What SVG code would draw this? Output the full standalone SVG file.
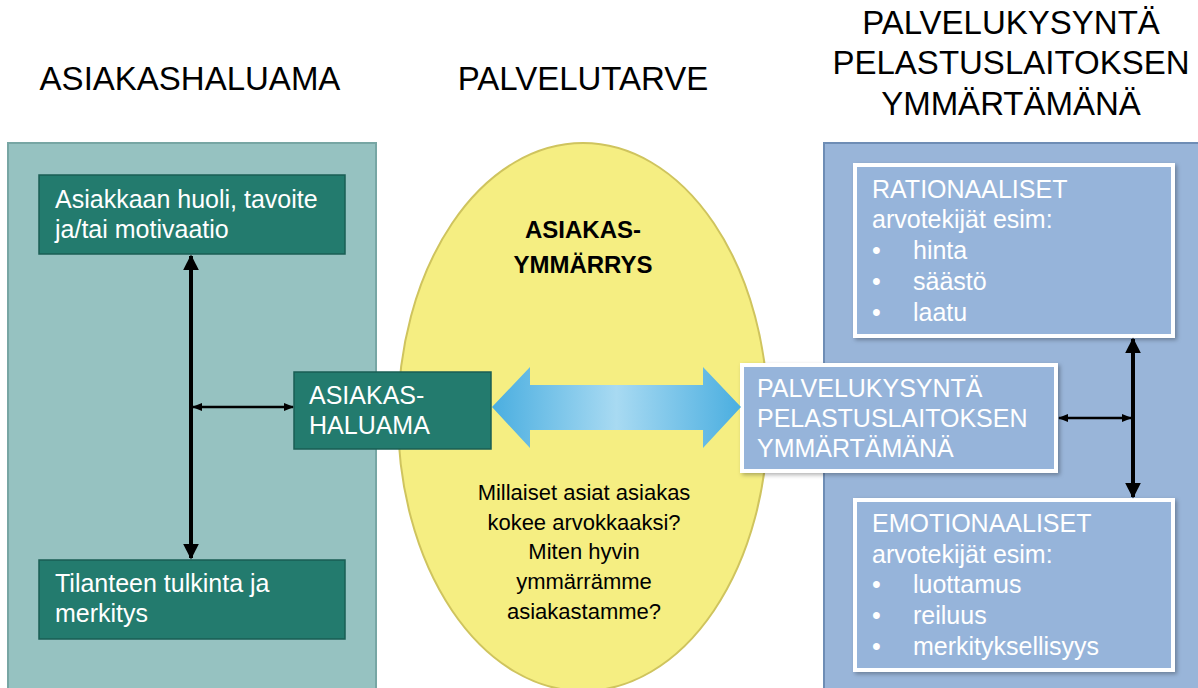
<svg xmlns="http://www.w3.org/2000/svg" width="1198" height="688" viewBox="0 0 1198 688">
<defs>
<style>
.t{font-family:"Liberation Sans",Arial,sans-serif}
.title{font-size:33px;fill:#000}
.wt{font-size:25px;fill:#fff}
.rt{font-size:25px;fill:#fff}
.q{font-size:22px;fill:#000;text-anchor:middle}
.dk{fill:#237b6e;stroke:#1a5e54;stroke-width:1.5}
.bx{fill:#96b4da;stroke:#fff;stroke-width:4}
.ln{stroke:#000;fill:none}
</style>
<marker id="ah" viewBox="0 0 10 10" refX="9" refY="5" markerWidth="4" markerHeight="4" orient="auto-start-reverse" markerUnits="strokeWidth"><path d="M0,0 L10,5 L0,10 z" fill="#000"/></marker>
<marker id="ah2" viewBox="0 0 10 10" refX="9" refY="5" markerWidth="4" markerHeight="4" orient="auto-start-reverse" markerUnits="strokeWidth"><path d="M0,1 L10,5 L0,9 z" fill="#000"/></marker>
<linearGradient id="bg" x1="0" y1="0" x2="1" y2="0">
<stop offset="0" stop-color="#4aaee0"/><stop offset="0.5" stop-color="#a8daf2"/><stop offset="1" stop-color="#4aaee0"/>
</linearGradient>
<filter id="sh" x="-5%" y="-5%" width="112%" height="115%"><feDropShadow dx="2" dy="2" stdDeviation="2" flood-color="#000" flood-opacity="0.3"/></filter>
</defs>
<rect width="1198" height="688" fill="#fff"/>

<g id="titles" class="t title">
<text x="190" y="90" text-anchor="middle">ASIAKASHALUAMA</text>
<text x="583" y="90" text-anchor="middle">PALVELUTARVE</text>
<text x="1011" y="34" text-anchor="middle">PALVELUKYSYNTÄ</text>
<text x="1011" y="74" text-anchor="middle">PELASTUSLAITOKSEN</text>
<text x="1011" y="115" text-anchor="middle">YMMÄRTÄMÄNÄ</text>
</g>

<g id="left-panel"><rect x="8" y="143" width="368" height="560" fill="#96c2c1" stroke="#77a6a4" stroke-width="2"/></g>
<g id="right-panel"><rect x="824" y="143" width="390" height="560" fill="#99b5d9" stroke="#6e8db5" stroke-width="2"/></g>

<g id="ellipse"><ellipse cx="583" cy="417" rx="185" ry="274" fill="#f5ee82" stroke="#cfc45e" stroke-width="2"/>
<text class="t" x="583" y="238" text-anchor="middle" font-size="24" font-weight="bold">ASIAKAS-</text>
<text class="t" x="583" y="273" text-anchor="middle" font-size="24" font-weight="bold">YMMÄRRYS</text>
<text class="t q" x="584" y="500">Millaiset asiat asiakas</text>
<text class="t q" x="584" y="530">kokee arvokkaaksi?</text>
<text class="t q" x="584" y="559">Miten hyvin</text>
<text class="t q" x="584" y="589">ymmärrämme</text>
<text class="t q" x="584" y="619">asiakastamme?</text>
</g>

<g id="node-huoli"><rect class="dk" x="39" y="175" width="306" height="79"/>
<text class="t wt" x="55" y="208">Asiakkaan huoli, tavoite</text>
<text class="t wt" x="55" y="238">ja/tai motivaatio</text></g>

<g id="node-tilanne"><rect class="dk" x="39" y="560" width="306" height="79"/>
<text class="t wt" x="55" y="592">Tilanteen tulkinta ja</text>
<text class="t wt" x="55" y="622">merkitys</text></g>

<g id="node-haluama"><rect class="dk" x="294" y="372" width="197" height="77"/>
<text class="t wt" x="309" y="404">ASIAKAS-</text>
<text class="t wt" x="309" y="434">HALUAMA</text></g>

<g id="node-rationaaliset"><rect class="bx" x="855" y="165" width="318" height="171" filter="url(#sh)"/>
<text class="t rt" x="872" y="198">RATIONAALISET</text>
<text class="t rt" x="872" y="228">arvotekijät esim:</text>
<text class="t rt" x="872" y="259">•</text><text class="t rt" x="913" y="259">hinta</text>
<text class="t rt" x="872" y="290">•</text><text class="t rt" x="913" y="290">säästö</text>
<text class="t rt" x="872" y="321">•</text><text class="t rt" x="913" y="321">laatu</text></g>

<g id="node-palvelukysynta"><rect class="bx" x="742" y="365" width="314" height="106" filter="url(#sh)"/>
<text class="t rt" x="757" y="397">PALVELUKYSYNTÄ</text>
<text class="t rt" x="757" y="427">PELASTUSLAITOKSEN</text>
<text class="t rt" x="757" y="457">YMMÄRTÄMÄNÄ</text></g>

<g id="node-emotionaaliset"><rect class="bx" x="855" y="500" width="318" height="170" filter="url(#sh)"/>
<text class="t rt" x="872" y="532">EMOTIONAALISET</text>
<text class="t rt" x="872" y="563">arvotekijät esim:</text>
<text class="t rt" x="872" y="593">•</text><text class="t rt" x="913" y="593">luottamus</text>
<text class="t rt" x="872" y="624">•</text><text class="t rt" x="913" y="624">reiluus</text>
<text class="t rt" x="872" y="655">•</text><text class="t rt" x="913" y="655">merkityksellisyys</text></g>

<g id="connectors">
<line class="ln" x1="191" y1="256" x2="191" y2="558" stroke-width="4" marker-start="url(#ah)" marker-end="url(#ah)"/>
<line class="ln" x1="193" y1="407" x2="293" y2="407" stroke-width="2.5" marker-start="url(#ah2)" marker-end="url(#ah2)"/>
<line class="ln" x1="1133" y1="339" x2="1133" y2="497" stroke-width="4" marker-start="url(#ah)" marker-end="url(#ah)"/>
<line class="ln" x1="1059" y1="418" x2="1131" y2="418" stroke-width="2.5" marker-start="url(#ah2)" marker-end="url(#ah2)"/>
<path d="M492,407 L530,367 L530,385 L703,385 L703,367 L741,407 L703,448 L703,430 L530,430 L530,448 Z" fill="url(#bg)"/>
</g>
</svg>
